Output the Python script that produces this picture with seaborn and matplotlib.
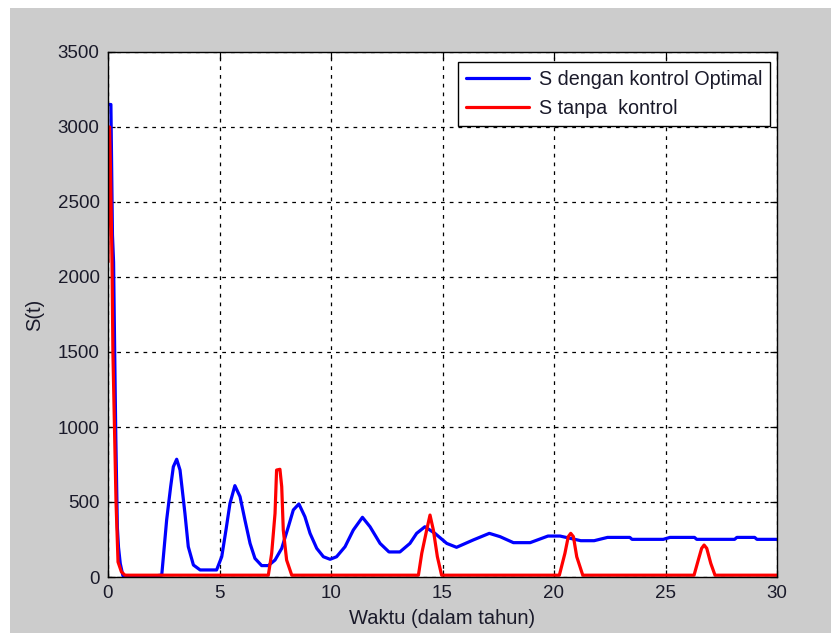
import matplotlib
matplotlib.use("Agg")
import matplotlib.pyplot as plt
import seaborn as sns
import pandas as pd

# ---- data ----
t_opt = [0.0, 0.13, 0.15, 0.2, 0.25, 0.3, 0.35, 0.42, 0.47, 0.55, 0.67, 1.0, 2.0, 2.41,
         2.63, 2.81, 2.93, 3.08, 3.23, 3.45, 3.6, 3.83, 4.13, 4.87, 5.1, 5.29, 5.47,
         5.69, 5.92, 6.14, 6.37, 6.59, 6.89, 7.19, 7.49, 7.79, 8.09, 8.31, 8.56, 8.83,
         9.06, 9.36, 9.66, 9.96, 10.25, 10.63, 11.0, 11.41, 11.75, 12.2, 12.6, 13.09,
         13.54, 13.84, 14.21, 14.66, 15.19, 15.63, 16.38, 17.1, 17.58, 18.18, 18.93,
         19.73, 20.27, 21.2, 21.8, 22.4, 23.4, 23.5, 24.9, 25.2, 26.3, 26.4, 28.1, 28.2,
         29.0, 29.1, 30.0]
s_opt = [3150, 3150, 2900, 2280, 2100, 1500, 930, 330, 200, 90, 8, 5, 5, 13,
         380, 602, 735, 785, 713, 424, 202, 80, 47, 47, 135, 313, 491,
         609, 536, 380, 224, 124, 76, 76, 113, 191, 336, 447, 487, 402,
         291, 191, 135, 118, 135, 202, 313, 398, 335, 224, 167, 167,
         224, 291, 335, 291, 224, 198, 247, 291, 269, 229, 229,
         273, 273, 242, 242, 264, 264, 251, 251, 264, 264, 251, 251, 264,
         264, 251, 251]

t_no = [0.0, 0.03, 0.07, 0.11, 0.18, 0.22, 0.29, 0.36, 0.45, 0.6, 0.76,
        7.19, 7.34, 7.49, 7.56, 7.71, 7.79, 7.86, 8.01, 8.24,
        13.92, 14.07, 14.29, 14.44, 14.59, 14.77, 14.96,
        20.24, 20.49, 20.64, 20.75, 20.87, 21.02, 21.29,
        26.28, 26.47, 26.62, 26.73, 26.85, 27.03, 27.22, 30.0]
s_no = [2100, 3000, 3000, 2727, 2100, 1500, 1000, 500, 100, 35, 12,
        12, 158, 424, 713, 718, 602, 313, 113, 12,
        12, 158, 313, 413, 313, 135, 12,
        12, 158, 269, 291, 269, 135, 12,
        12, 113, 191, 213, 191, 91, 12, 12]

labels = ["S dengan kontrol Optimal", "S tanpa  kontrol"]
x_ticks = [0, 5, 10, 15, 20, 25, 30]
y_ticks = [0, 500, 1000, 1500, 2000, 2500, 3000, 3500]

df_opt = pd.DataFrame({"t": t_opt, "S": s_opt})
df_no = pd.DataFrame({"t": t_no, "S": s_no})

sns.set_style("white")
plt.rcParams["font.family"] = ["Liberation Sans", "DejaVu Sans"]

W, H = 831, 633
fig = plt.figure(figsize=(W / 100, H / 100), dpi=100, facecolor="white")
# gray figure area (white strip at top and left)
fig.patches.append(plt.Rectangle((10 / W, 0), 1 - 10 / W, 1 - 8 / H,
                                 transform=fig.transFigure, facecolor="#cccccc",
                                 edgecolor="none", zorder=-10))

ax = fig.add_axes([108 / W, (H - 577) / H, (777 - 108) / W, (577 - 52) / H])
ax.set_facecolor("white")

sns.lineplot(data=df_opt, x="t", y="S", ax=ax, color="#0000ff", lw=2.3,
             estimator=None, sort=False, label=labels[0])
sns.lineplot(data=df_no, x="t", y="S", ax=ax, color="#ff0000", lw=2.3,
             estimator=None, sort=False, label=labels[1])

ax.set_xlim(0, 30)
ax.set_ylim(0, 3500)
ax.set_xticks(x_ticks)
ax.set_yticks(y_ticks)
ax.set_xticklabels([str(v) for v in x_ticks])
ax.set_yticklabels([str(v) for v in y_ticks])
ax.grid(True, color="black", linestyle=(0, (3, 4)), linewidth=0.9)
ax.set_axisbelow(True)
for sp in ax.spines.values():
    sp.set_visible(True)
    sp.set_color("black")
    sp.set_linewidth(1.0)
ax.tick_params(direction="in", length=5, width=0.9, colors="black",
               labelsize=13.5, labelcolor="#1a1a2a", pad=6,
               top=True, right=True, bottom=True, left=True)
ax.set_xlabel("Waktu (dalam tahun)", fontsize=14.5, color="#1a1a2a", labelpad=5)
ax.set_ylabel("S(t)", fontsize=14.5, color="#1a1a2a", labelpad=10)

leg = ax.legend(loc="upper right", bbox_to_anchor=(770 / W, (H - 62) / H),
                bbox_transform=fig.transFigure, fontsize=14.2, frameon=True,
                fancybox=False, framealpha=1, edgecolor="black",
                handlelength=3.2, borderpad=0.4, labelspacing=0.5,
                handletextpad=0.5, borderaxespad=0)
leg.get_frame().set_linewidth(1.0)
for txt in leg.get_texts():
    txt.set_color("#1a1a2a")

fig.savefig("out.png", dpi=100, facecolor=fig.get_facecolor())
